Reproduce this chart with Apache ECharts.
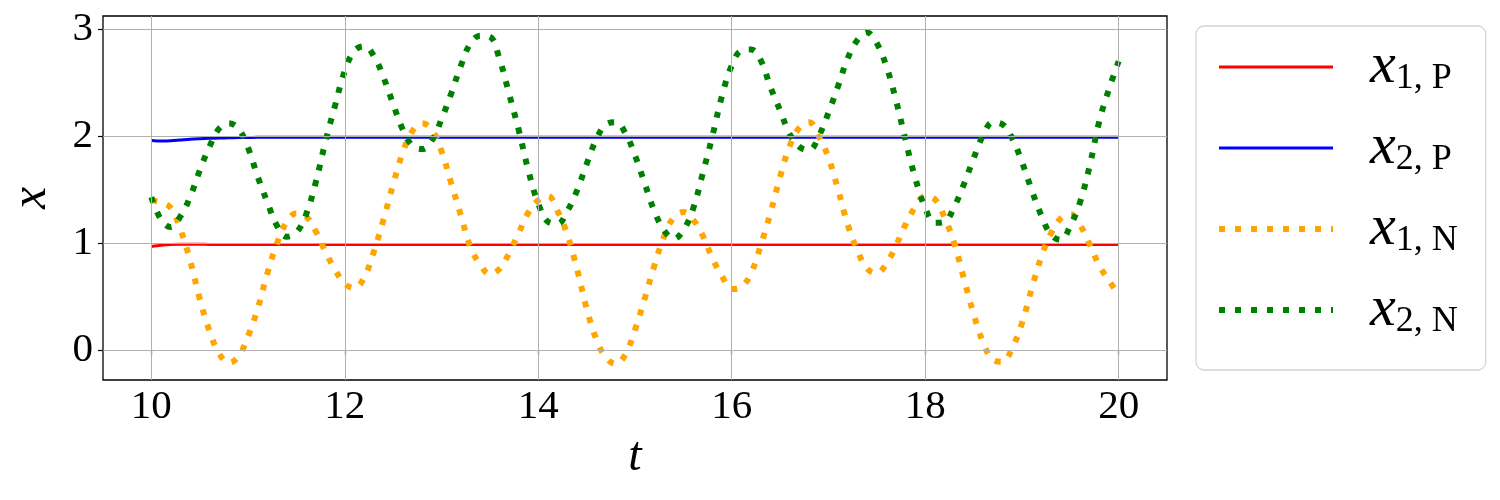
<!DOCTYPE html>
<html>
<head>
<meta charset="utf-8">
<script src="https://cdn.jsdelivr.net/npm/echarts@6/dist/echarts.min.js"></script>
<style>html,body{margin:0;padding:0;background:#fff;}#c{width:1500px;height:500px;}</style>
</head>
<body>
<div id="c"></div>
<script>
const t = [10.0,10.1,10.2,10.3,10.4,10.5,10.6,10.7,10.8,10.9,11.0,11.1,11.2,11.3,11.4,11.5,11.6,11.7,11.8,11.9,12.0,12.1,12.2,12.3,12.4,12.5,12.6,12.7,12.8,12.9,13.0,13.1,13.2,13.3,13.4,13.5,13.6,13.7,13.8,13.9,14.0,14.1,14.2,14.3,14.4,14.5,14.6,14.7,14.8,14.9,15.0,15.1,15.2,15.3,15.4,15.5,15.6,15.7,15.8,15.9,16.0,16.1,16.2,16.3,16.4,16.5,16.6,16.7,16.8,16.9,17.0,17.1,17.2,17.3,17.4,17.5,17.6,17.7,17.8,17.9,18.0,18.1,18.2,18.3,18.4,18.5,18.6,18.7,18.8,18.9,19.0,19.1,19.2,19.3,19.4,19.5,19.6,19.7,19.8,19.9,20.0];

const x1P = [0.968,0.980,0.987,0.990,0.990,0.989,0.988,0.987,0.987,0.987,0.987,0.987,0.987,0.987,0.987,0.987,0.987,0.987,0.987,0.987,0.987,0.987,0.987,0.987,0.987,0.987,0.987,0.987,0.987,0.987,0.987,0.987,0.987,0.987,0.987,0.987,0.987,0.987,0.987,0.987,0.987,0.987,0.987,0.987,0.987,0.987,0.987,0.987,0.987,0.987,0.987,0.987,0.987,0.987,0.987,0.987,0.987,0.987,0.987,0.987,0.987,0.987,0.987,0.987,0.987,0.987,0.987,0.987,0.987,0.987,0.987,0.987,0.987,0.987,0.987,0.987,0.987,0.987,0.987,0.987,0.987,0.987,0.987,0.987,0.987,0.987,0.987,0.987,0.987,0.987,0.987,0.987,0.987,0.987,0.987,0.987,0.987,0.987,0.987,0.987,0.987];

const x2P = [1.960,1.955,1.957,1.964,1.971,1.976,1.980,1.983,1.985,1.987,1.988,1.989,1.989,1.99,1.99,1.99,1.99,1.99,1.99,1.99,1.99,1.99,1.99,1.99,1.99,1.99,1.99,1.99,1.99,1.99,1.99,1.99,1.99,1.99,1.99,1.99,1.99,1.99,1.99,1.99,1.99,1.99,1.99,1.99,1.99,1.99,1.99,1.99,1.99,1.99,1.99,1.99,1.99,1.99,1.99,1.99,1.99,1.99,1.99,1.99,1.99,1.99,1.99,1.99,1.99,1.99,1.99,1.99,1.99,1.99,1.99,1.99,1.99,1.99,1.99,1.99,1.99,1.99,1.99,1.99,1.99,1.99,1.99,1.99,1.99,1.99,1.99,1.99,1.99,1.99,1.99,1.99,1.99,1.99,1.99,1.99,1.99,1.99,1.99,1.99,1.99];

const x1N = [1.40,1.38,1.33,1.13,0.84,0.48,0.18,-0.03,-0.12,-0.06,0.13,0.39,0.72,1.00,1.20,1.28,1.25,1.11,0.92,0.75,0.62,0.58,0.68,0.92,1.22,1.55,1.85,2.05,2.12,2.06,1.86,1.56,1.26,0.96,0.80,0.71,0.76,0.91,1.10,1.29,1.40,1.44,1.30,1.08,0.76,0.39,0.10,-0.07,-0.13,-0.04,0.19,0.48,0.79,1.06,1.24,1.29,1.22,1.07,0.86,0.69,0.57,0.59,0.72,0.98,1.28,1.62,1.91,2.08,2.13,2.00,1.80,1.50,1.17,0.93,0.76,0.72,0.81,0.98,1.18,1.34,1.44,1.41,1.24,1.00,0.67,0.34,0.07,-0.09,-0.11,0.02,0.25,0.57,0.87,1.09,1.23,1.27,1.17,0.99,0.79,0.65,0.52];

const x2N = [1.43,1.22,1.15,1.25,1.43,1.68,1.90,2.07,2.12,2.07,1.89,1.62,1.38,1.16,1.06,1.10,1.27,1.57,1.95,2.29,2.61,2.80,2.84,2.75,2.55,2.30,2.06,1.91,1.88,1.96,2.16,2.40,2.66,2.87,2.94,2.93,2.72,2.39,2.05,1.67,1.37,1.20,1.18,1.30,1.49,1.74,1.97,2.11,2.13,2.03,1.82,1.56,1.30,1.12,1.04,1.12,1.32,1.65,2.00,2.38,2.66,2.80,2.81,2.71,2.46,2.24,2.02,1.90,1.87,2.00,2.22,2.47,2.73,2.90,2.97,2.87,2.65,2.33,1.95,1.60,1.33,1.19,1.20,1.34,1.55,1.79,2.01,2.13,2.11,1.98,1.76,1.50,1.26,1.08,1.03,1.16,1.38,1.72,2.14,2.44,2.70];

const xTicks = [10, 12, 14, 16, 18, 20];
const yTicks = [0, 1, 2, 3];
const seriesNames = ['x1P', 'x2P', 'x1N', 'x2N'];
const legendLabels = {x1P: ['1', 'P'], x2P: ['2', 'P'], x1N: ['1', 'N'], x2N: ['2', 'N']};
const colors = {x1P: '#ff0000', x2P: '#0000ff', x1N: '#ffa500', x2N: '#008000'};

const SERIF = "Liberation Serif";
const pair = arr => arr.map((v, i) => [t[i], v]);
const solid = name => ({color: colors[name], width: 3, type: 'solid'});
const dotted = name => ({color: colors[name], width: 6, type: [6, 10], cap: 'butt'});
const styleOf = name => (name.endsWith('P') ? solid(name) : dotted(name));

const chart = echarts.init(document.getElementById('c'), null, {renderer: 'canvas'});

const gridLineData = xTicks.map(v => ({xAxis: v})).concat(yTicks.map(v => ({yAxis: v})));

chart.setOption({
  animation: false,
  backgroundColor: '#fff',
  textStyle: {fontFamily: SERIF},
  grid: {left: 103, top: 16, right: 333, bottom: 120, show: true, borderColor: '#000', borderWidth: 1.3,
    backgroundColor: 'transparent', containLabel: false, outerBoundsMode: 'none'},
  xAxis: {
    type: 'value', min: 9.5, max: 20.5,
    name: 't', nameLocation: 'middle', nameGap: 52,
    nameTextStyle: {fontFamily: SERIF, fontStyle: 'italic', fontSize: 48, color: '#000'},
    axisLine: {show: false},
    axisTick: {show: true, length: 5, lineStyle: {color: '#000', width: 1.2}, customValues: xTicks},
    axisLabel: {fontFamily: SERIF, fontSize: 41, color: '#000', margin: 7, customValues: xTicks},
    splitLine: {show: false}
  },
  yAxis: {
    type: 'value', min: -0.28, max: 3.124,
    name: 'x', nameLocation: 'middle', nameGap: 46,
    nameTextStyle: {fontFamily: SERIF, fontStyle: 'italic', fontSize: 50, color: '#000'},
    axisLine: {show: false},
    axisTick: {show: true, length: 5, lineStyle: {color: '#000', width: 1.2}, customValues: yTicks},
    axisLabel: {fontFamily: SERIF, fontSize: 41, color: '#000', margin: 10, customValues: yTicks},
    splitLine: {show: false}
  },
  legend: {
    orient: 'vertical', left: 1196, top: 26,
    data: seriesNames.map(n => ({name: n, lineStyle: styleOf(n), itemStyle: {opacity: 0}})),
    itemStyle: {opacity: 0},
    backgroundColor: '#fff', borderColor: '#d4d4d4', borderWidth: 1.3, borderRadius: 8,
    padding: [12, 28, 30, 20],
    itemWidth: 114, itemHeight: 14, itemGap: 22,
    formatter: name => '{x|x}{s|' + legendLabels[name][0] + ', ' + legendLabels[name][1] + '}',
    textStyle: {
      color: '#000', fontFamily: SERIF, fontStyle: 'italic', fontSize: 58, padding: [0, 0, 0, 32],
      rich: {
        x: {fontFamily: SERIF, fontStyle: 'italic', fontSize: 58, lineHeight: 60, color: '#000', verticalAlign: 'middle'},
        s: {fontFamily: SERIF, fontStyle: 'normal', fontSize: 36, lineHeight: 36, color: '#000', verticalAlign: 'bottom'}
      }
    }
  },
  series: [
    {
      name: 'grid', type: 'line', data: [], z: 1, silent: true,
      markLine: {silent: true, symbol: ['none', 'none'], label: {show: false}, animation: false,
        lineStyle: {color: '#b0b0b0', width: 1, type: 'solid'}, data: gridLineData}
    },
    {name: 'x1P', type: 'line', data: pair(x1P), symbol: 'none', smooth: 0.3, z: 3, lineStyle: solid('x1P'), itemStyle: {color: colors.x1P}},
    {name: 'x2P', type: 'line', data: pair(x2P), symbol: 'none', smooth: 0.3, z: 3, lineStyle: solid('x2P'), itemStyle: {color: colors.x2P}},
    {name: 'x1N', type: 'line', data: pair(x1N), symbol: 'none', smooth: 0.4, z: 3, lineStyle: dotted('x1N'), itemStyle: {color: colors.x1N}},
    {name: 'x2N', type: 'line', data: pair(x2N), symbol: 'none', smooth: 0.4, z: 3, lineStyle: dotted('x2N'), itemStyle: {color: colors.x2N}}
  ]
});
</script>
</body>
</html>
